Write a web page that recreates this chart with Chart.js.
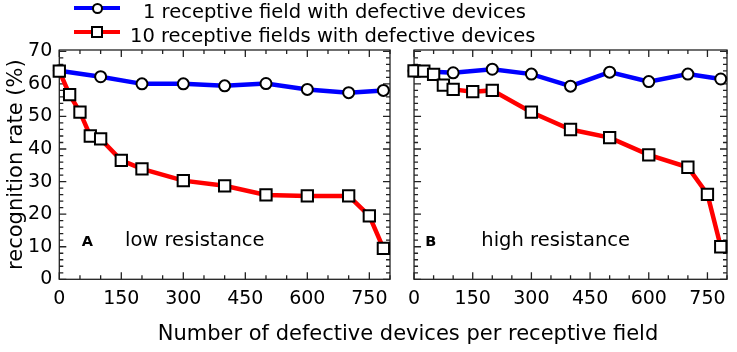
<!DOCTYPE html>
<html lang="en">
<head>
  <meta charset="UTF-8">
  <title>Recognition rate vs defective devices</title>

  <script src="https://cdn.jsdelivr.net/npm/chart.js"></script>

  <style>
    body { margin: 0; background: #fff; font-family: "DejaVu Sans", sans-serif; }
    #wrap { position: relative; width: 737px; height: 352px; overflow: hidden; }
    canvas { position: absolute; top: 0; }
    #chartLow { left: 0; }
    #chartHigh { left: 400px; }
    .leg-line { position: absolute; left: 74px; width: 46px; height: 4px; }
    .leg-mark { position: absolute; background: #fff; border: 2px solid #000; box-sizing: border-box; }
    .leg-text { position: absolute; font-size: 19.5px; line-height: 24px; white-space: nowrap; color: #000; }
    #xTitle { position: absolute; left: 0; width: 816px; top: 321px; text-align: center; font-size: 21px; line-height: 24px; white-space: nowrap; }
  </style>
</head>
<body>

  <div id="wrap">
    <canvas id="chartLow" width="400" height="352"></canvas>
    <canvas id="chartHigh" width="337" height="352"></canvas>

    <!-- legend -->
    <div class="leg-line" style="top:6px; background:#0000ff;"></div>
    <div class="leg-mark" style="left:92px; top:3px; width:11px; height:11px; border-radius:50%;"></div>
    <div class="leg-text" style="left:143px; top:0px;">1 receptive field with defective devices</div>
    <div class="leg-line" style="top:30px; background:#ff0000;"></div>
    <div class="leg-mark" style="left:91px; top:26px; width:12px; height:12px;"></div>
    <div class="leg-text" style="left:130px; top:24px;">10 receptive fields with defective devices</div>

    <div id="xTitle">Number of defective devices per receptive field</div>
  </div>

  <script>
    // tick labels
    const xTickLabels = [0, 150, 300, 450, 600, 750];
    const yTickLabels = [0, 10, 20, 30, 40, 50, 60, 70];

    // low resistance (panel A)
    const lowX1 = [0, 100, 200, 300, 400, 500, 600, 700, 784];
    const lowY1 = [64, 62.2, 60, 60, 59.4, 60.1, 58.3, 57.3, 58];
    const lowX10 = [0, 25, 50, 75, 100, 150, 200, 300, 400, 500, 600, 700, 750, 784];
    const lowY10 = [63.9, 56.7, 51.3, 44, 43.1, 36.5, 33.9, 30.3, 28.7, 25.9, 25.6, 25.6, 19.5, 9.5];

    // high resistance (panel B)
    const highX1 = [0, 100, 200, 300, 400, 500, 600, 700, 784];
    const highY1 = [64, 63.4, 64.5, 63, 59.3, 63.6, 60.7, 63, 61.5];
    const highX10 = [0, 25, 50, 75, 100, 150, 200, 300, 400, 500, 600, 700, 750, 784];
    const highY10 = [64, 63.9, 62.9, 59.6, 58.3, 57.6, 58, 51.3, 46, 43.5, 38.2, 34.4, 26.1, 10];

    const FONT = '"DejaVu Sans", sans-serif';

    function toPoints(xs, ys) {
      return xs.map((x, i) => ({ x: x, y: ys[i] }));
    }

    // box around the plot with inward ticks on all four sides
    const frameTicks = {
      id: 'frameTicks',
      beforeDatasetsDraw(chart) {
        const { ctx, chartArea: a, scales: { x, y } } = chart;
        ctx.save();
        ctx.strokeStyle = '#222';
        ctx.lineWidth = 1.3;
        ctx.strokeRect(a.left, a.top, a.right - a.left, a.bottom - a.top);
        ctx.beginPath();
        for (let v = 0; v <= 800; v += 50) {
          const px = x.getPixelForValue(v);
          const len = v % 150 === 0 ? 7 : 4;
          ctx.moveTo(px, a.bottom); ctx.lineTo(px, a.bottom - len);
          ctx.moveTo(px, a.top); ctx.lineTo(px, a.top + len);
        }
        for (let v = 0; v <= 70; v += 2) {
          const py = y.getPixelForValue(v);
          const len = v % 10 === 0 ? 7 : 4;
          ctx.moveTo(a.left, py); ctx.lineTo(a.left + len, py);
          ctx.moveTo(a.right, py); ctx.lineTo(a.right - len, py);
        }
        ctx.stroke();
        ctx.restore();
      }
    };

    // "A  low resistance" style label inside the panel
    const panelText = {
      id: 'panelText',
      afterDraw(chart, args, opts) {
        const { ctx, scales: { x, y } } = chart;
        const py = y.getPixelForValue(11.8);
        ctx.save();
        ctx.fillStyle = '#000';
        ctx.textBaseline = 'middle';
        ctx.textAlign = 'center';
        ctx.font = 'bold 14.5px ' + FONT;
        ctx.fillText(opts.letter, x.getPixelForValue(opts.letterAt), py + 1);
        ctx.textAlign = 'left';
        ctx.font = '19.5px ' + FONT;
        ctx.fillText(opts.text, x.getPixelForValue(opts.textAt), py);
        ctx.restore();
      }
    };

    function makeChart(id, xs1, ys1, xs10, ys10, showY, padLeft, padRight, label) {
      const ctx = document.getElementById(id).getContext('2d');
      return new Chart(ctx, {
        type: 'line',
        data: {
          datasets: [
            {
              label: '1 receptive field with defective devices',
              data: toPoints(xs1, ys1),
              borderColor: '#0000ff',
              borderWidth: 4.5,
              pointStyle: 'circle',
              pointRadius: 5.5,
              pointBackgroundColor: '#fff',
              pointBorderColor: '#000',
              pointBorderWidth: 2,
              clip: false,
              order: 2
            },
            {
              label: '10 receptive fields with defective devices',
              data: toPoints(xs10, ys10),
              borderColor: '#ff0000',
              borderWidth: 4.5,
              pointStyle: 'rect',
              pointRadius: 8,
              pointBackgroundColor: '#fff',
              pointBorderColor: '#000',
              pointBorderWidth: 2,
              clip: false,
              order: 1
            }
          ]
        },
        options: {
          responsive: false,
          animation: false,
          layout: { padding: { top: 50, left: padLeft, right: padRight, bottom: 0 } },
          plugins: {
            legend: { display: false },
            tooltip: { enabled: false },
            panelText: label
          },
          scales: {
            x: {
              type: 'linear',
              min: 0,
              max: 800,
              afterBuildTicks: s => { s.ticks = xTickLabels.map(v => ({ value: v })); },
              afterFit: s => { s.height = 352 - 279.3; },
              ticks: { font: { family: FONT, size: 19 }, color: '#000', padding: 8, autoSkip: false, maxRotation: 0, callback: v => String(v) },
              grid: { display: false, drawTicks: false },
              border: { display: false }
            },
            y: {
              display: showY,
              min: 0,
              max: 70.4,
              afterBuildTicks: s => { s.ticks = yTickLabels.map(v => ({ value: v })); },
              afterFit: s => { if (showY) s.width = 59.3; },
              ticks: { font: { family: FONT, size: 19 }, color: '#000', padding: 7, callback: v => String(v) },
              grid: { display: false, drawTicks: false },
              border: { display: false },
              title: { display: true, text: 'recognition rate (%)', color: '#000', font: { family: FONT, size: 21 } }
            }
          }
        },
        plugins: [frameTicks, panelText]
      });
    }

    makeChart('chartLow', lowX1, lowY1, lowX10, lowY10, true, 0, 4,
      { letter: 'A', letterAt: 68, text: 'low resistance', textAt: 159 });
    makeChart('chartHigh', highX1, highY1, highX10, highY10, false, 7.3, 3.7,
      { letter: 'B', letterAt: 43, text: 'high resistance', textAt: 172 });
  </script>

</body>
</html>
